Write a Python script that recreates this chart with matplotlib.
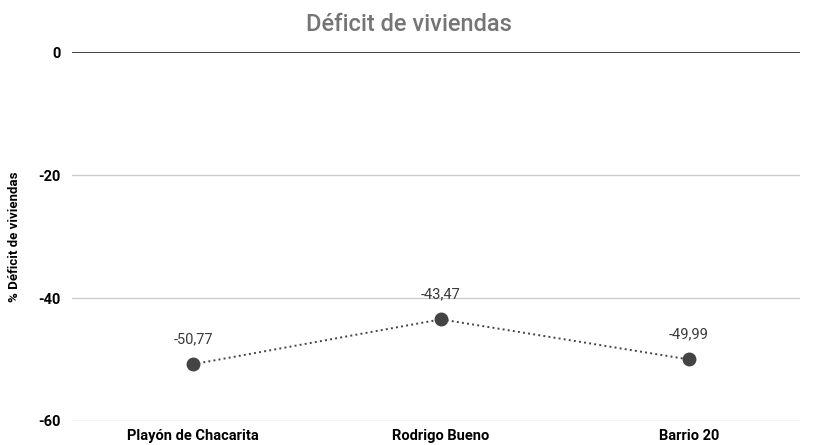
import matplotlib.pyplot as plt

plt.rcParams['font.family'] = ['Roboto', 'DejaVu Sans']

barrios = ['Playón de Chacarita', 'Rodrigo Bueno', 'Barrio 20']
deficit = [-50.77, -43.47, -49.99]
yticks = [0, -20, -40, -60]

fig = plt.figure(figsize=(8.15, 4.45), dpi=100)
ax = fig.add_axes([0.088, 0.054, 0.894, 0.829])

x = list(range(len(barrios)))
ax.plot(x, deficit, linestyle=':', color='#444444', linewidth=1.4,
        marker='o', markersize=9, markerfacecolor='#444444',
        markeredgecolor='#444444', zorder=3)

for xi, v in zip(x, deficit):
    ax.annotate(f'{v:.2f}'.replace('.', ','), (xi, v), xytext=(0, 13),
                textcoords='offset points', ha='center', va='bottom',
                fontsize=10.5, color='#3a3a3a')

ax.set_xlim(-0.49, 2.45)
ax.set_ylim(-60, 0)
ax.set_yticks(yticks)
ax.set_yticklabels([str(t) for t in yticks], fontweight='bold', fontsize=10.5)
ax.set_xticks(x)
ax.set_xticklabels(barrios, fontweight='bold', fontsize=10.5)
ax.tick_params(axis='y', length=0, pad=8)
ax.tick_params(axis='x', length=0, pad=5.5)

for t in yticks:
    if t == 0:
        ax.axhline(t, color='#333333', linewidth=1.3, zorder=2)
    else:
        ax.axhline(t, color='#cccccc', linewidth=1, zorder=1)

for s in ax.spines.values():
    s.set_visible(False)

ax.set_ylabel('% Déficit de viviendas', fontweight='bold', fontsize=9.5, labelpad=12)
fig.suptitle('Déficit de viviendas', x=0.502, y=0.97, fontsize=17,
             color='#757575', fontweight='medium')

fig.savefig('out.png', dpi=100)
